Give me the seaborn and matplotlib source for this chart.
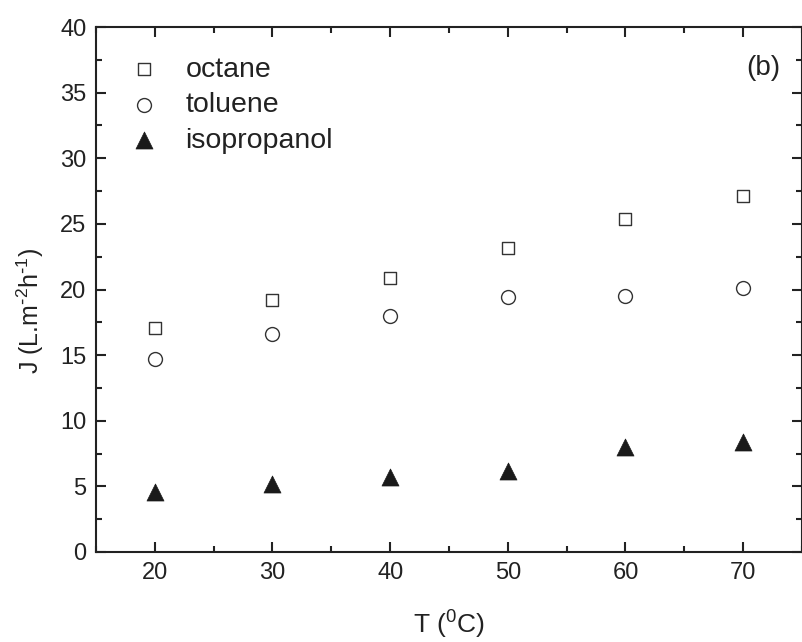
import pandas as pd
import seaborn as sns
import matplotlib.pyplot as plt
from matplotlib.ticker import MultipleLocator

# values
temperature = [20, 30, 40, 50, 60, 70]
octane = [17.1, 19.2, 20.9, 23.2, 25.4, 27.1]
toluene = [14.7, 16.6, 18.0, 19.4, 19.5, 20.1]
isopropanol = [4.55, 5.2, 5.75, 6.2, 8.0, 8.4]

sns.set_style('ticks')
plt.rcParams['font.family'] = ['Liberation Sans', 'DejaVu Sans']
plt.rcParams['mathtext.default'] = 'regular'

df = pd.DataFrame({'T': temperature, 'octane': octane,
                   'toluene': toluene, 'isopropanol': isopropanol})

fig = plt.figure(figsize=(8.03, 6.42), dpi=100)
ax = fig.add_axes([96 / 803, 90 / 642, 706 / 803, 525 / 642])

sns.scatterplot(data=df, x='T', y='octane', marker='s', s=80,
                facecolor='white', edgecolor='#333333', linewidth=1.0,
                label='octane', ax=ax)
sns.scatterplot(data=df, x='T', y='toluene', marker='o', s=100,
                facecolor='white', edgecolor='#333333', linewidth=1.0,
                label='toluene', ax=ax)
sns.scatterplot(data=df, x='T', y='isopropanol', marker='^', s=150,
                color='#1a1a1a', edgecolor='#1a1a1a', linewidth=0.5,
                label='isopropanol', ax=ax)

ax.set_xlim(15, 75)
ax.set_ylim(0, 40)
ax.xaxis.set_major_locator(MultipleLocator(10))
ax.xaxis.set_minor_locator(MultipleLocator(5))
ax.yaxis.set_major_locator(MultipleLocator(5))
ax.yaxis.set_minor_locator(MultipleLocator(2.5))
ax.set_xticks(temperature)

ax.tick_params(which='both', direction='in', top=True, right=True,
               width=1.5, color='#222222', labelsize=17, labelcolor='#222222')
ax.tick_params(which='major', length=7, pad=7)
ax.tick_params(which='minor', length=4)
for side in ax.spines.values():
    side.set_linewidth(1.5)
    side.set_color('#222222')

ax.set_xlabel('T ($^{0}$C)', fontsize=19, color='#222222', labelpad=18)
ax.set_ylabel(r'J (L.m$^{\text{-}2}$h$^{\text{-}1}$)', fontsize=18,
              color='#222222')
ax.yaxis.set_label_coords(-0.071, 0.459)

ax.text(71.7, 36.9, '(b)', fontsize=20, color='#222222', ha='center', va='center')

leg = ax.legend(loc='upper left', bbox_to_anchor=(0.012, 0.965), frameon=False,
                fontsize=20.5, handletextpad=0.45, labelspacing=0.33,
                borderaxespad=0)
for txt in leg.get_texts():
    txt.set_color('#222222')

plt.savefig('out.png', dpi=100)
